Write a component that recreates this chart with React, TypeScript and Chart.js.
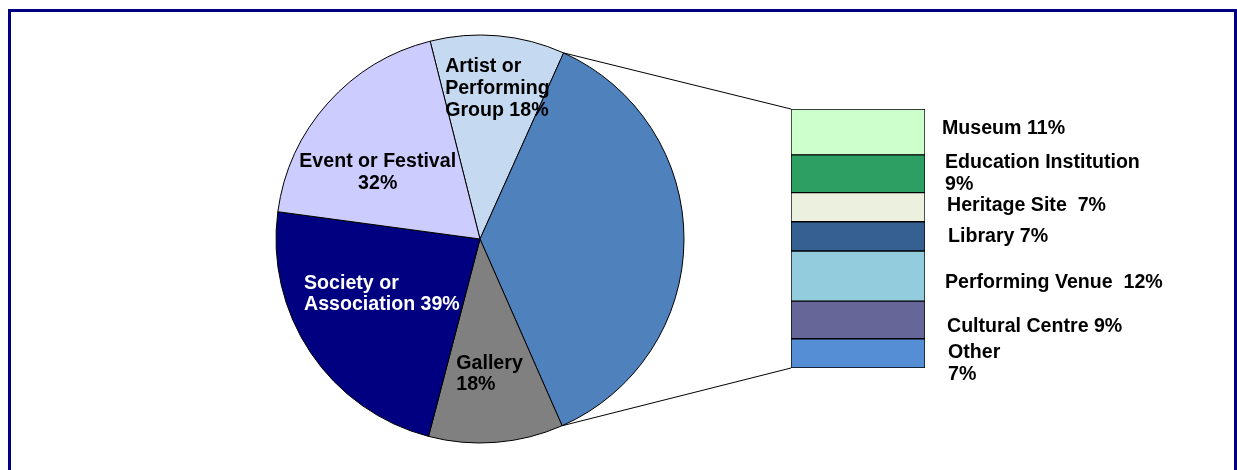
import React, { useEffect, useRef } from "react";
import { Chart, registerables } from "chart.js";

Chart.register(...registerables);

// ---------- data ----------
const pieCategories = [
  "Artist or Performing Group",
  "Other",
  "Gallery",
  "Society or Association",
  "Event or Festival",
];
// "Other" slice is the combined total of the breakdown bar (62)
const pieValues = [18, 62, 18, 39, 32];
const pieColors = ["#C5D9F1", "#4F81BD", "#808080", "#000080", "#CCCCFF"];
const pieLabelLines: string[][] = [
  ["Artist or", "Performing", "Group 18%"],
  [],
  ["Gallery", "18%"],
  ["Society or", "Association 39%"],
  ["Event or Festival", "32%"],
];

const barCategories = [
  "Museum",
  "Education Institution",
  "Heritage Site",
  "Library",
  "Performing Venue",
  "Cultural Centre",
  "Other",
];
const barValues = [11, 9, 7, 7, 12, 9, 7];
const barColors = ["#CCFFCC", "#2E9F63", "#EBF1DE", "#366092", "#93CDDD", "#666699", "#558ED5"];
const barLabelLines: string[][] = [
  ["Museum 11%"],
  ["Education Institution", "9%"],
  ["Heritage Site  7%"],
  ["Library 7%"],
  ["Performing Venue  12%"],
  ["Cultural Centre 9%"],
  ["Other", "7%"],
];

// ---------- styling ----------
const FONT = '"Liberation Sans", Arial, Helvetica, sans-serif';
const LABEL_SIZE = 19.6;
const LINE_H = 21.8;
const pieLabelColors = ["#000", "", "#000", "#fff", "#000"];
const pieLabelAlign = ["left", "", "left", "left", "center"];
const pieLabelRadius = [0.75, 0, 0.65, 0.52, 0.6];
const pieLabelDx = [4, 0, -1, -10, -11];
const pieLabelDy = [2, 0, 3, -4, 15];
const barLabelDx = [17, 20, 22, 23, 20, 22, 23];
const barLabelDy = [-3, 0, -2, 0, 6, 7, 10];

const W = 1237;
const H = 470;

export default function App() {
  const pieRef = useRef<HTMLCanvasElement>(null);
  const barRef = useRef<HTMLCanvasElement>(null);

  useEffect(() => {
    document.documentElement.style.overflow = "hidden";
    document.body.style.overflow = "hidden";
    document.body.style.margin = "0";
    if (!pieRef.current || !barRef.current) return;

    const pieLabelPlugin = {
      id: "pieLabels",
      afterDatasetsDraw(chart: any) {
        const ctx = chart.ctx as CanvasRenderingContext2D;
        const meta = chart.getDatasetMeta(0);
        ctx.save();
        ctx.font = `bold ${LABEL_SIZE}px ${FONT}`;
        ctx.textBaseline = "middle";
        meta.data.forEach((arc: any, i: number) => {
          const lines = pieLabelLines[i];
          if (!lines || !lines.length) return;
          const p = arc.getProps(["x", "y", "startAngle", "endAngle", "outerRadius"], true);
          const mid = (p.startAngle + p.endAngle) / 2;
          const rr = p.outerRadius * pieLabelRadius[i];
          const cx = p.x + rr * Math.cos(mid) + pieLabelDx[i];
          const cy = p.y + rr * Math.sin(mid) + pieLabelDy[i];
          const maxW = Math.max(...lines.map((l) => ctx.measureText(l).width));
          ctx.fillStyle = pieLabelColors[i];
          lines.forEach((line, j) => {
            const y = cy + (j - (lines.length - 1) / 2) * LINE_H;
            if (pieLabelAlign[i] === "center") {
              ctx.textAlign = "center";
              ctx.fillText(line, cx, y);
            } else {
              ctx.textAlign = "left";
              ctx.fillText(line, cx - maxW / 2, y);
            }
          });
        });
        ctx.restore();
      },
    };

    const pie = new Chart(pieRef.current, {
      type: "pie",
      data: {
        labels: pieCategories,
        datasets: [
          {
            data: pieValues,
            backgroundColor: pieColors,
            borderColor: "#000",
            borderWidth: 1,
          },
        ],
      },
      options: {
        responsive: false,
        animation: false,
        rotation: -14.15,
        radius: 204,
        layout: { padding: { left: 0, right: W - 960, top: 8, bottom: 0 } },
        plugins: { legend: { display: false }, tooltip: { enabled: false } },
      } as any,
      plugins: [pieLabelPlugin],
    });

    const n = barCategories.length;
    const total = barValues.reduce((a, b) => a + b, 0);
    // stacked bottom-to-top: reverse of the top-to-bottom list
    const datasets = barCategories
      .map((c, k) => ({
        label: c,
        data: [barValues[k]],
        backgroundColor: barColors[k],
        borderColor: "#000",
        borderWidth: 1,
        borderSkipped: false as any,
        barPercentage: 1,
        categoryPercentage: 1,
      }))
      .reverse();

    const barPlugin = {
      id: "barExtras",
      afterDatasetsDraw(chart: any) {
        const ctx = chart.ctx as CanvasRenderingContext2D;
        ctx.save();
        ctx.font = `bold ${LABEL_SIZE}px ${FONT}`;
        ctx.textBaseline = "middle";
        ctx.textAlign = "left";
        ctx.fillStyle = "#000";
        for (let k = 0; k < n; k++) {
          const el = chart.getDatasetMeta(n - 1 - k).data[0];
          const p = el.getProps(["x", "y", "base", "width"], true);
          const right = p.x + p.width / 2;
          const cy = (p.y + p.base) / 2 + barLabelDy[k];
          const lines = barLabelLines[k];
          lines.forEach((line, j) => {
            const y = cy + (j - (lines.length - 1) / 2) * LINE_H;
            ctx.fillText(line, right + barLabelDx[k], y);
          });
        }
        // connector lines from the "Other" pie slice to the bar
        const arc: any = pie.getDatasetMeta(0).data[1];
        const a = arc.getProps(["x", "y", "startAngle", "endAngle", "outerRadius"], true);
        const topEl = chart.getDatasetMeta(n - 1).data[0].getProps(["x", "y", "width"], true);
        const botEl = chart.getDatasetMeta(0).data[0].getProps(["x", "base", "width"], true);
        ctx.strokeStyle = "#000";
        ctx.lineWidth = 1;
        ctx.beginPath();
        ctx.moveTo(a.x + a.outerRadius * Math.cos(a.startAngle), a.y + a.outerRadius * Math.sin(a.startAngle));
        ctx.lineTo(topEl.x - topEl.width / 2, topEl.y);
        ctx.moveTo(a.x + a.outerRadius * Math.cos(a.endAngle), a.y + a.outerRadius * Math.sin(a.endAngle));
        ctx.lineTo(botEl.x - botEl.width / 2, botEl.base);
        ctx.stroke();
        ctx.restore();
      },
    };

    const bar = new Chart(barRef.current, {
      type: "bar",
      data: { labels: ["Other"], datasets },
      options: {
        responsive: false,
        animation: false,
        layout: { padding: { left: 791, right: W - 925, top: 109, bottom: H - 368 } },
        scales: {
          x: { display: false, stacked: true },
          y: { display: false, stacked: true, min: 0, max: total },
        },
        plugins: { legend: { display: false }, tooltip: { enabled: false } },
      } as any,
      plugins: [barPlugin],
    });

    return () => {
      bar.destroy();
      pie.destroy();
    };
  }, []);

  return (
    <div
      style={{
        position: "fixed",
        left: 0,
        top: 0,
        width: W,
        height: H,
        overflow: "hidden",
        background: "#fff",
      }}
    >
      <canvas
        ref={pieRef}
        width={W}
        height={H}
        style={{ position: "absolute", left: 0, top: 0, width: W, height: H }}
      />
      <canvas
        ref={barRef}
        width={W}
        height={H}
        style={{ position: "absolute", left: 0, top: 0, width: W, height: H }}
      />
      <div
        style={{
          position: "absolute",
          left: 8,
          top: 9,
          width: 1229,
          height: 480,
          border: "3px solid #000080",
          boxSizing: "border-box",
          pointerEvents: "none",
        }}
      />
    </div>
  );
}
